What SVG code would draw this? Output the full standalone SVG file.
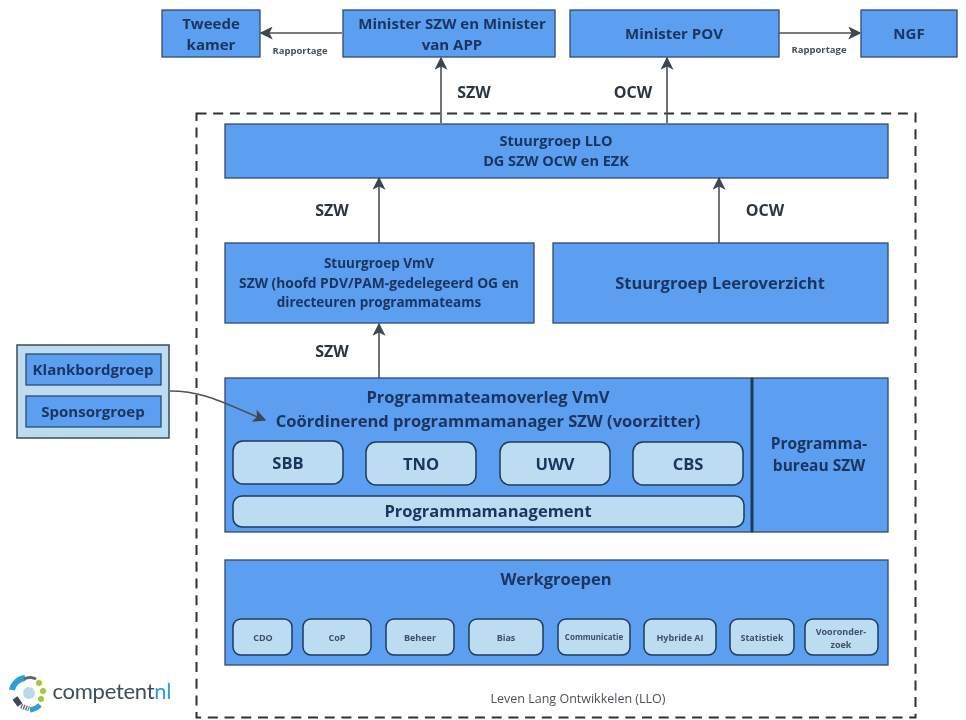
<svg xmlns="http://www.w3.org/2000/svg" width="966" height="720" viewBox="0 0 966 720">
<defs>
<marker id="ah" viewBox="0 0 10 10" refX="9" refY="5" markerWidth="13" markerHeight="13" markerUnits="userSpaceOnUse" orient="auto"><path d="M0 0L10 5L0 10L2.5 5Z" fill="#3d4650"/></marker>
<filter id="soft" x="-2%" y="-2%" width="104%" height="104%"><feGaussianBlur stdDeviation="0.45"/></filter>
</defs>
<style>
text{font-family:"Open Sans","Noto Sans",sans-serif;text-anchor:middle;fill:#1c3560;font-weight:700}
.b{fill:#5b9ff0;stroke:#2e4a6e;stroke-width:1.3}
.l{fill:#bcdcf2;stroke:#1f3a5c;stroke-width:1.5}
.c{fill:none;stroke:#4a525a;stroke-width:1.6}
.s{font-size:9.5px;fill:#45505c}
.a{font-size:16px;fill:#2b3540}
.n15{font-size:15px}.n16{font-size:16.500px}.n17{font-size:16.500px}
.g{font-size:9px;fill:#3f5068}
</style>
<rect width="966" height="720" fill="#fff"/>
<g filter="url(#soft)">
<rect id="boundary" x="196.500" y="113.500" width="719" height="604" fill="none" stroke="#2f3338" stroke-width="2" stroke-dasharray="10 6.700"/>
<g id="tweede-kamer"><rect class="b" x="162" y="10" width="98" height="47"/><text class="n15" x="211" y="29">Tweede</text><text class="n15" x="211" y="50">kamer</text></g>
<g id="minister-szw"><rect class="b" x="343" y="10" width="212" height="47"/><text class="n15" x="452" y="29">Minister SZW en Minister</text><text class="n15" x="452" y="50">van APP</text></g>
<g id="minister-pov"><rect class="b" x="570" y="10" width="209" height="47"/><text class="n15" x="674" y="39">Minister POV</text></g>
<g id="ngf"><rect class="b" x="861" y="10" width="96" height="47"/><text class="n15" x="909" y="39">NGF</text></g>
<text class="s" x="300" y="54">Rapportage</text>
<text class="s" x="819" y="53">Rapportage</text>
<text class="a" x="474" y="98">SZW</text>
<text class="a" x="633" y="98">OCW</text>
<g id="stuurgroep-llo"><rect class="b" x="225" y="124" width="663" height="54"/><text x="556" y="146" font-size="14.500">Stuurgroep LLO</text><text x="556" y="166" font-size="14.500">DG SZW OCW en EZK</text></g>
<text class="a" x="332" y="216">SZW</text>
<text class="a" x="765" y="216">OCW</text>
<g id="stuurgroep-vmv"><rect class="b" x="225" y="243" width="309" height="80"/><text x="379" y="268" font-size="13.500">Stuurgroep VmV</text><text x="379" y="288" font-size="13.800">SZW (hoofd PDV/PAM-gedelegeerd OG en</text><text x="379" y="307" font-size="13.500">directeuren programmateams</text></g>
<g id="stuurgroep-leeroverzicht"><rect class="b" x="553" y="243" width="335" height="80"/><text class="n17" x="720" y="289">Stuurgroep Leeroverzicht</text></g>
<text class="a" x="332" y="357">SZW</text>
<g id="externe-groepen"><rect x="17" y="345" width="152" height="93" fill="#bcdcf2" stroke="#3a4a58" stroke-width="1.500"/>
<g id="klankbordgroep"><rect class="b" x="26" y="354" width="135" height="31"/><text class="n15" x="93" y="375">Klankbordgroep</text></g>
<g id="sponsorgroep"><rect class="b" x="26" y="396" width="135" height="31"/><text class="n15" x="93" y="417">Sponsorgroep</text></g></g>
<g id="programmateamoverleg"><rect class="b" x="225" y="378" width="527" height="154"/><text class="n17" x="488" y="403">Programmateamoverleg VmV</text><text class="n17" x="488" y="427">Coördinerend programmamanager SZW (voorzitter)</text>
<g id="sbb"><rect class="l" x="233" y="441" width="110" height="43" rx="10"/><text class="n17" x="288" y="469">SBB</text></g>
<g id="tno"><rect class="l" x="366" y="442" width="110" height="43" rx="10"/><text class="n17" x="421" y="470">TNO</text></g>
<g id="uwv"><rect class="l" x="500" y="442" width="110" height="43" rx="10"/><text class="n17" x="555" y="470">UWV</text></g>
<g id="cbs"><rect class="l" x="633" y="442" width="110" height="43" rx="10"/><text class="n17" x="688" y="470">CBS</text></g>
<g id="programmamanagement"><rect class="l" x="233" y="496" width="511" height="31" rx="9"/><text class="n17" x="488" y="517">Programmamanagement</text></g></g>
<g id="programmabureau"><rect class="b" x="752" y="378" width="136" height="154"/><path d="M752 378V532" stroke="#1f3a5c" stroke-width="3"/><text class="n17" x="819" y="449" style="font-size:15.500px">Programma-</text><text class="n17" x="819" y="471" style="font-size:15.500px">bureau SZW</text></g>
<g id="werkgroepen"><rect class="b" x="225" y="560" width="663" height="105"/><text class="n17" x="556" y="585">Werkgroepen</text>
<g id="cdo"><rect class="l" x="233" y="619" width="59" height="36" rx="8"/><text class="g" x="263" y="641">CDO</text></g>
<g id="cop"><rect class="l" x="303" y="619" width="68" height="36" rx="8"/><text class="g" x="337" y="641">CoP</text></g>
<g id="beheer"><rect class="l" x="386" y="619" width="68" height="36" rx="8"/><text class="g" x="420" y="641">Beheer</text></g>
<g id="bias"><rect class="l" x="469" y="619" width="74" height="36" rx="8"/><text class="g" x="506" y="641">Bias</text></g>
<g id="communicatie"><rect class="l" x="558" y="619" width="72" height="36" rx="8"/><text class="g" x="594" y="640" style="font-size:8px">Communicatie</text></g>
<g id="hybride-ai"><rect class="l" x="644" y="619" width="72" height="36" rx="8"/><text class="g" x="680" y="641">Hybride AI</text></g>
<g id="statistiek"><rect class="l" x="730" y="619" width="64" height="36" rx="8"/><text class="g" x="762" y="641">Statistiek</text></g>
<g id="vooronderzoek"><rect class="l" x="805" y="619" width="73" height="36" rx="8"/><text class="g" x="841" y="635">Vooronder-</text><text class="g" x="841" y="648">zoek</text></g></g>
<text x="578" y="703" font-size="12.500" style="font-weight:400;fill:#4c5258">Leven Lang Ontwikkelen (LLO)</text>
<g id="connectors">
<path class="c" d="M342 33H261" marker-end="url(#ah)"/>
<path class="c" d="M441 123V58" marker-end="url(#ah)"/>
<path class="c" d="M667 123V58" marker-end="url(#ah)"/>
<path class="c" d="M779 33H860" marker-end="url(#ah)"/>
<path class="c" d="M379 243V178" marker-end="url(#ah)"/>
<path class="c" d="M719 243V178" marker-end="url(#ah)"/>
<path class="c" d="M379 378V324" marker-end="url(#ah)"/>
<path class="c" d="M170 391C205 391 225 404 265 420" marker-end="url(#ah)"/>
</g>
<g id="logo">
<path d="M12 690A15 15 0 0 1 25 678" fill="none" stroke="#2f9fd3" stroke-width="6"/>
<path d="M24 679Q30 676 36 679" fill="none" stroke="#5a6670" stroke-width="3"/>
<circle cx="39" cy="683" r="3" fill="#a5c63b"/><circle cx="43" cy="691" r="3" fill="#a5c63b"/><circle cx="41" cy="699" r="3" fill="#a5c63b"/>
<circle cx="29" cy="693" r="6" fill="#bcd8ec"/>
<path d="M15 698L20 705" stroke="#3d4a56" stroke-width="6" fill="none"/>
<path d="M21 706L29 709" stroke="#6a7580" stroke-width="5" stroke-dasharray="1.500 1" fill="none"/>
<path d="M30 710Q36 709 40 705" fill="none" stroke="#2f9fd3" stroke-width="5"/>
<text x="112" y="699" font-size="22" style="font-family:Lato,'Open Sans',sans-serif;font-weight:400;fill:#3f4d5a" textLength="119">competent<tspan fill="#2f9fd3">nl</tspan></text>
</g>
</g>
</svg>
